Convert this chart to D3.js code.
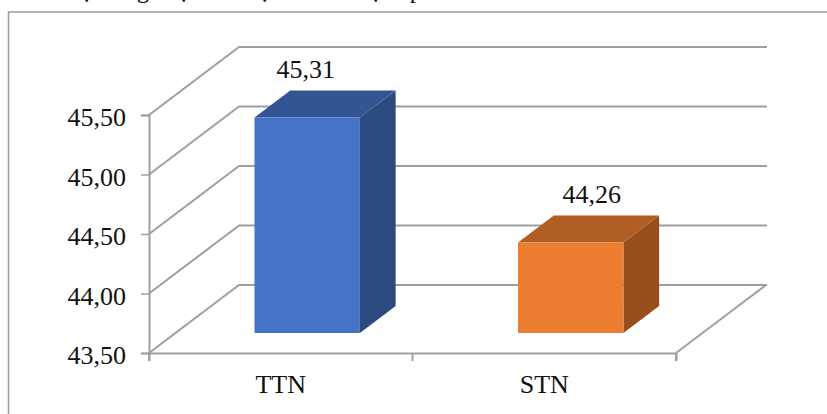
<!DOCTYPE html>
<html>
<head>
<meta charset="utf-8">
<script src="https://cdn.jsdelivr.net/npm/d3@7"></script>
<style>
html,body{margin:0;padding:0;background:#fff;overflow:hidden}
svg{display:block}
text{font-family:"Liberation Serif",serif;fill:#111}
</style>
</head>
<body>
<svg id="chart" width="827" height="414"></svg>
<script>
// Chart content
const categories = ["TTN", "STN"];
const values = [45.31, 44.26];
const valueLabels = ["45,31", "44,26"];
const yTicks = [43.5, 44, 44.5, 45, 45.5];
const frontColors = ["#4472C4", "#ED7D31"];
const topColors = ["#335593", "#B15E24"];
const sideColors = ["#2B4A80", "#984F1B"];
// Tail of the caption line above the frame, cut off by the page edge
const captionGlyphs = ["ạ", "g", "ạ", "ạ", "ạ", "p"];
const captionX = [87, 143, 184, 265, 376, 416];

const svg = d3.select("#chart");
const GRID = "#9F9F9F";
const FONT = 26;

// Oblique projection: t = 0 is the front of the floor, t = 1 the back wall
const depthX = 90, depthY = -68;
const x = d3.scaleBand().domain(categories).range([149, 676]);
const y = d3.scaleLinear().domain([43.5, 45.5]).range([353, 115]);
const project = (px, v, t) => [px + depthX * t, y(v) + depthY * t];

// Caption fragments
svg.append("g").selectAll("text").data(captionGlyphs).join("text")
  .attr("x", (d, i) => captionX[i])
  .attr("y", -2)
  .attr("text-anchor", "middle")
  .style("font-size", "25px")
  .text(d => d);

// Outer chart frame: open at the right and bottom of the page
svg.append("path")
  .attr("d", "M8.5,414V12H827")
  .attr("fill", "none")
  .attr("stroke", "#9C9C9C")
  .attr("stroke-width", 1.5);

// Wall gridlines: up the side wall, then along the back wall
const rightBack = 767;
svg.append("g").selectAll("path").data(yTicks).join("path")
  .attr("fill", "none")
  .attr("stroke", GRID)
  .attr("stroke-width", 2)
  .attr("d", v => d3.line()([project(149, v, 0), project(149, v, 1), [rightBack, project(149, v, 1)[1]]]));

// Right edge of the floor
svg.append("path")
  .attr("fill", "none")
  .attr("stroke", GRID)
  .attr("stroke-width", 2)
  .attr("d", d3.line()([project(676, 43.5, 0), project(676, 43.5, 1)]));

// Axes
const yAxis = d3.axisLeft(y).tickValues(yTicks).tickSize(8).tickPadding(15)
  .tickFormat(d => d3.format(".2f")(d).replace(".", ","));
const gy = svg.append("g").attr("transform", "translate(149,0)").call(yAxis);
gy.selectAll("text").attr("dy", "0.42em").style("font-size", FONT + "px").style("font-family", '"Liberation Serif",serif');

const xAxis = d3.axisBottom(x).tickSize(8).tickPadding(0).tickFormat(() => "");
const gx = svg.append("g").attr("transform", "translate(0,353)").call(xAxis);
gx.selectAll(".tick").remove();
const edges = [x.range()[0], x(categories[1]), x.range()[1]];
gx.selectAll("line.edge").data(edges).join("line")
  .attr("class", "edge")
  .attr("x1", d => d).attr("x2", d => d)
  .attr("y1", 0).attr("y2", 8)
  .attr("stroke", GRID).attr("stroke-width", 2);
gx.selectAll("text.cat").data(categories).join("text")
  .attr("class", "cat")
  .attr("x", d => x(d) + x.bandwidth() / 2)
  .attr("y", 40)
  .attr("text-anchor", "middle")
  .style("font-size", FONT + "px")
  .text(d => d);
[gy, gx].forEach(g => g.select(".domain").attr("stroke", GRID).attr("stroke-width", 2));
gy.selectAll("line").attr("stroke", GRID).attr("stroke-width", 1.5);

// 3D bars
const tFront = 0.294, tBack = 0.691, halfWidth = 0.2;
const poly = pts => "M" + pts.map(p => p.join(",")).join("L") + "Z";
const bars = svg.append("g").selectAll("g").data(categories).join("g");
bars.each(function (c, i) {
  const g = d3.select(this);
  const cx = x(c) + x.bandwidth() / 2;
  const l = cx - x.bandwidth() * halfWidth, r = cx + x.bandwidth() * halfWidth;
  const v = values[i], base = y.domain()[0];
  g.append("path").attr("fill", sideColors[i]).attr("d", poly([
    project(r, base, tFront), project(r, base, tBack), project(r, v, tBack), project(r, v, tFront)]));
  g.append("path").attr("fill", topColors[i]).attr("d", poly([
    project(l, v, tFront), project(r, v, tFront), project(r, v, tBack), project(l, v, tBack)]));
  g.append("path").attr("fill", frontColors[i]).attr("d", poly([
    project(l, base, tFront), project(r, base, tFront), project(r, v, tFront), project(l, v, tFront)]));
});

// Value labels above each bar
const labelShift = [-1.5, 21];
svg.append("g").selectAll("text").data(categories).join("text")
  .attr("x", (c, i) => x(c) + x.bandwidth() / 2 + depthX * tFront + labelShift[i])
  .attr("y", (c, i) => project(0, values[i], tBack)[1] - 12.5)
  .attr("text-anchor", "middle")
  .style("font-size", FONT + "px")
  .text((c, i) => valueLabels[i]);
</script>
</body>
</html>
